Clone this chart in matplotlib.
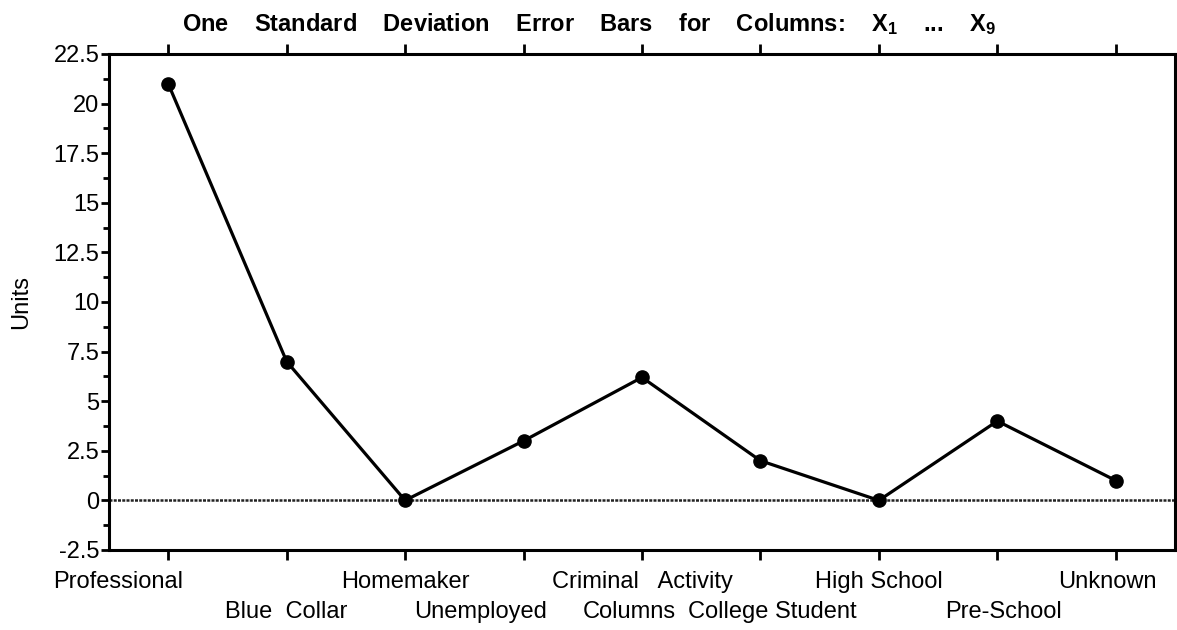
import matplotlib
matplotlib.use("Agg")
import matplotlib.pyplot as plt
from matplotlib.ticker import MultipleLocator, FixedLocator

# data
categories = ["Professional", "Blue  Collar", "Homemaker", "Unemployed",
              "Criminal   Activity", "College Student", "High School",
              "Pre-School", "Unknown"]
values = [21.0, 7.0, 0.0, 3.0, 6.2, 2.0, 0.0, 4.0, 1.0]
ytick_values = [-2.5, 0, 2.5, 5, 7.5, 10, 12.5, 15, 17.5, 20, 22.5]
ytick_labels = ["-2.5", "0", "2.5", "5", "7.5", "10", "12.5", "15", "17.5", "20", "22.5"]

# layout of the staggered category labels (x centre in data units, row)
label_x = [-0.42, 1, 2, 2.64, 4, 5.1, 6, 7.05, 7.93]
label_row = [0, 1, 0, 1, 0, 1, 0, 1, 0]
row_y = [-0.065, -0.125]

plt.rcParams["font.family"] = ["Liberation Sans", "DejaVu Sans"]
plt.rcParams["mathtext.fontset"] = "custom"
plt.rcParams["mathtext.rm"] = "Liberation Sans:bold"
plt.rcParams["mathtext.it"] = "Liberation Sans:bold"
plt.rcParams["mathtext.bf"] = "Liberation Sans:bold"

fig = plt.figure(figsize=(11.77, 6.30), dpi=100)
ax = fig.add_axes([109 / 1177, 1 - 550 / 630, 1066 / 1177, 496 / 630])

x = list(range(len(values)))
ax.plot(x, values, color="black", lw=2.3, marker="o", ms=9.5, zorder=3)
ax.axhline(0, color="#222222", lw=1.8, ls=(0, (1.2, 0.5)), zorder=2)

ax.set_xlim(-0.5, 8.5)
ax.set_ylim(-2.5, 22.5)

ax.yaxis.set_major_locator(FixedLocator(ytick_values))
ax.set_yticklabels(ytick_labels, fontsize=17)
ax.yaxis.set_minor_locator(MultipleLocator(1.25))
ax.tick_params(axis="y", which="major", direction="out", length=6, width=2, pad=1)
ax.tick_params(axis="y", which="minor", direction="out", length=4, width=2)

ax.set_xticks(x)
ax.set_xticklabels([""] * len(x))
ax.tick_params(axis="x", which="major", direction="out", length=7, width=2,
               top=True, bottom=True)

for s in ax.spines.values():
    s.set_linewidth(2.2)

for lab, lx, r in zip(categories, label_x, label_row):
    ax.text(lx, row_y[r], lab, transform=ax.get_xaxis_transform(),
            ha="center", va="center", fontsize=17)

ax.set_xlabel("Columns", fontsize=17, va="center")
ax.xaxis.set_label_coords(0.488, row_y[1])
ax.set_ylabel("Units", fontsize=17, va="center")
ax.yaxis.set_label_coords(-0.082, 0.5)

fig.text(0.5, 1 - 24 / 630,
         r"One    Standard    Deviation    Error    Bars    for    Columns:    X$_1$    ...    X$_9$",
         ha="center", va="center", fontsize=17, fontweight="bold")

fig.savefig("out.png", dpi=100)
